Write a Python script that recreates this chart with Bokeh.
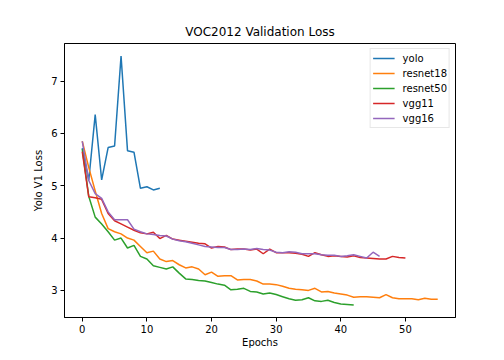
from bokeh.plotting import figure
from bokeh.models import Range1d, FixedTicker, Legend, LegendItem
from bokeh.embed import file_html
from bokeh.resources import INLINE

yolo = [5.72, 5.1, 6.36, 5.11, 5.73, 5.76, 7.48, 5.67, 5.64, 4.95, 4.98, 4.92, 4.95]
resnet18 = [5.85, 5.35, 4.9, 4.47, 4.18, 4.12, 4.08, 4.0, 3.96, 3.84, 3.72, 3.75, 3.60, 3.55,
            3.57, 3.49, 3.43, 3.45, 3.41, 3.30, 3.35, 3.27, 3.28, 3.28, 3.20, 3.21, 3.21, 3.18,
            3.12, 3.12, 3.11, 3.08, 3.04, 3.02, 3.01, 3.0, 3.04, 2.97, 2.98, 2.95, 2.93, 2.91,
            2.87, 2.88, 2.88, 2.87, 2.86, 2.92, 2.86, 2.84, 2.84, 2.84, 2.82, 2.85, 2.83, 2.83]
resnet50 = [5.7, 4.8, 4.40, 4.27, 4.12, 3.96, 4.0, 3.81, 3.86, 3.65, 3.60, 3.47, 3.44, 3.41,
            3.45, 3.33, 3.22, 3.21, 3.19, 3.18, 3.15, 3.12, 3.10, 3.01, 3.02, 3.04, 2.98, 2.97,
            2.93, 2.95, 2.92, 2.88, 2.84, 2.81, 2.82, 2.86, 2.80, 2.79, 2.81, 2.77, 2.74, 2.73, 2.72]
vgg11 = [5.65, 4.79, 4.77, 4.74, 4.47, 4.33, 4.27, 4.21, 4.15, 4.10, 4.08, 4.11, 3.99, 4.05,
         3.98, 3.96, 3.94, 3.92, 3.90, 3.89, 3.81, 3.84, 3.83, 3.78, 3.79, 3.79, 3.77, 3.79,
         3.70, 3.79, 3.72, 3.72, 3.72, 3.71, 3.69, 3.65, 3.72, 3.68, 3.65, 3.66, 3.65, 3.64,
         3.66, 3.63, 3.62, 3.61, 3.60, 3.60, 3.65, 3.63, 3.62]
vgg16 = [5.85, 5.1, 4.85, 4.76, 4.5, 4.35, 4.35, 4.35, 4.17, 4.12, 4.08, 4.07, 4.05, 4.04,
         3.98, 3.95, 3.93, 3.90, 3.87, 3.84, 3.83, 3.82, 3.82, 3.78, 3.78, 3.79, 3.78, 3.80,
         3.78, 3.77, 3.73, 3.72, 3.74, 3.73, 3.70, 3.70, 3.70, 3.68, 3.67, 3.67, 3.65, 3.66,
         3.68, 3.65, 3.62, 3.73, 3.65]

names = ["yolo", "resnet18", "resnet50", "vgg11", "vgg16"]
series = [yolo, resnet18, resnet50, vgg11, vgg16]
colors = ["#1f77b4", "#ff7f0e", "#2ca02c", "#d62728", "#9467bd"]
x_ticks = [0, 10, 20, 30, 40, 50]
y_ticks = [3, 4, 5, 6, 7]

FONT = "DejaVu Sans"

p = figure(width=488, height=350, output_backend="svg", toolbar_location=None,
           x_range=Range1d(-2.75, 57.75), y_range=Range1d(2.482, 7.718),
           min_border_left=64, min_border_right=33, min_border_top=43, min_border_bottom=29)

p.title.text = "VOC2012 Validation Loss"
p.title.align = "center"
p.title.text_font = FONT
p.title.text_font_size = "12px"
p.title.text_font_style = "normal"
p.title.text_color = "black"
p.title.offset = 0

items = []
for name, ys, c in zip(names, series, colors):
    r = p.line(list(range(len(ys))), ys, line_color=c, line_width=1.5)
    items.append(LegendItem(label=name, renderers=[r]))

legend = Legend(items=items, location="top_right")
legend.label_text_font = FONT
legend.label_text_font_size = "10px"
legend.label_text_color = "black"
legend.glyph_width = 22
legend.glyph_height = 14
legend.label_height = 14
legend.spacing = 1
legend.padding = 2
legend.margin = 5
legend.label_standoff = 8
legend.border_line_color = "#d0d0d0"
legend.border_line_width = 1
legend.background_fill_alpha = 0.8
p.add_layout(legend)

p.xgrid.visible = False
p.ygrid.visible = False
p.outline_line_color = "black"
p.outline_line_width = 1

for ax, ticks, lab in [(p.xaxis[0], x_ticks, "Epochs"), (p.yaxis[0], y_ticks, "Yolo V1 Loss")]:
    ax.ticker = FixedTicker(ticks=ticks)
    ax.axis_label = lab
    ax.axis_label_text_font = FONT
    ax.axis_label_text_font_size = "10px"
    ax.axis_label_text_font_style = "normal"
    ax.axis_label_text_color = "black"
    ax.major_label_text_font = FONT
    ax.major_label_text_font_size = "10px"
    ax.major_label_text_color = "black"
    ax.major_tick_in = 0
    ax.major_tick_out = 4
    ax.major_tick_line_color = "black"
    ax.minor_tick_line_color = None
    ax.axis_line_color = "black"
    ax.major_label_standoff = 3
p.xaxis[0].axis_label_standoff = 1
p.yaxis[0].axis_label_standoff = 4

open("out.html", "w").write(file_html(p, INLINE))
